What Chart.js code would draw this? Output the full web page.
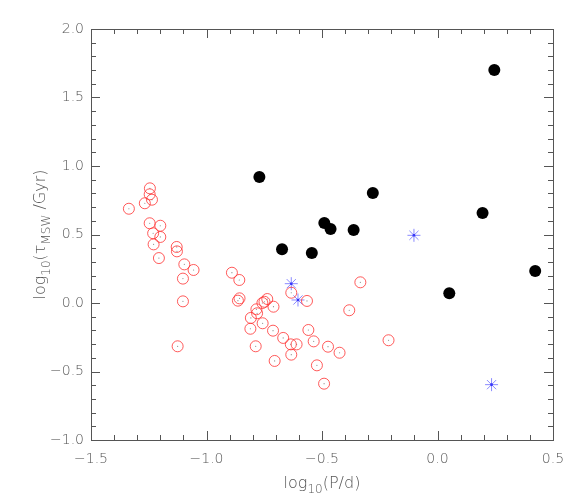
<!DOCTYPE html>
<html>
<head>
<meta charset="utf-8">
<script src="https://cdn.jsdelivr.net/npm/chart.js@4/dist/chart.umd.min.js"></script>
<style>
  body { margin: 0; background: #fff; }
  canvas { display: block; }
</style>
</head>
<body>
<canvas id="myChart" width="581" height="498"></canvas>
<script>
// red open circles
const redX = [-1.245, -1.246, -1.236, -1.267, -1.336, -1.246, -1.200, -1.231, -1.200, -1.229,
  -1.129, -1.128, -1.206, -1.096, -1.056, -1.102, -1.102, -1.125, -0.890, -0.858,
  -0.857, -0.864, -0.334, -0.633, -0.565, -0.737, -0.749, -0.758, -0.710, -0.784,
  -0.781, -0.382, -0.808, -0.757, -0.810, -0.712, -0.559, -0.668, -0.536, -0.635,
  -0.610, -0.787, -0.474, -0.212, -0.424, -0.633, -0.705, -0.522, -0.491]
const redY = [0.837, 0.793, 0.754, 0.728, 0.688, 0.582, 0.564, 0.509, 0.482, 0.428,
  0.409, 0.377, 0.328, 0.282, 0.241, 0.178, 0.012, -0.316, 0.221, 0.168,
  0.034, 0.017, 0.151, 0.075, 0.015, 0.029, 0.009, 0.000, -0.027, -0.046,
  -0.075, -0.053, -0.109, -0.148, -0.188, -0.202, -0.197, -0.255, -0.280, -0.302,
  -0.302, -0.316, -0.319, -0.272, -0.363, -0.377, -0.423, -0.455, -0.589]

// black filled circles
const blackX = [-0.771, 0.246, -0.280, -0.490, -0.463, -0.363, -0.673, -0.544, 0.195, 0.423, 0.051]
const blackY = [0.920, 1.700, 0.803, 0.584, 0.541, 0.533, 0.392, 0.365, 0.657, 0.234, 0.071]

// blue asterisks
const blueX = [-0.633, -0.604, -0.102, 0.234]
const blueY = [0.141, 0.022, 0.494, -0.596]

const xTicks = [-1.5, -1.0, -0.5, 0.0, 0.5]
const yTicks = [-1.0, -0.5, 0.0, 0.5, 1.0, 1.5, 2.0]

function toPoints(xs, ys) {
    return xs.map((x, i) => ({ x: x, y: ys[i] }))
}

function fmt(v) {
    let s = Number(v).toFixed(1)
    if (s === '-0.0') s = '0.0'
    return s.replace('-', '\u2212')
}

const axisColor = '#555'
const textColor = '#555'
const tickFont = { family: 'DejaVu Sans', size: 14, weight: '200' }

// box + inward major/minor ticks on all four sides
const axesBox = {
    id: 'axesBox',
    beforeDatasetsDraw(chart) {
        const { ctx, chartArea: a, scales } = chart
        const x = scales.x, y = scales.y
        ctx.save()
        ctx.strokeStyle = axisColor
        ctx.lineWidth = 1
        ctx.strokeRect(Math.round(a.left) + 0.5, Math.round(a.top) + 0.5,
            Math.round(a.right - a.left), Math.round(a.bottom - a.top))
        ctx.beginPath()
        let n = Math.round((x.max - x.min) / 0.1)
        for (let i = 0; i <= n; i++) {
            let len = i % 5 === 0 ? 9 : 5
            let px = Math.round(x.getPixelForValue(x.min + i * 0.1)) + 0.5
            ctx.moveTo(px, a.bottom); ctx.lineTo(px, a.bottom - len)
            ctx.moveTo(px, a.top); ctx.lineTo(px, a.top + len)
        }
        n = Math.round((y.max - y.min) / 0.1)
        for (let i = 0; i <= n; i++) {
            let len = i % 5 === 0 ? 9 : 5
            let py = Math.round(y.getPixelForValue(y.min + i * 0.1)) + 0.5
            ctx.moveTo(a.left, py); ctx.lineTo(a.left + len, py)
            ctx.moveTo(a.right, py); ctx.lineTo(a.right - len, py)
        }
        ctx.stroke()
        ctx.restore()
    }
}

// axis titles with subscripts
function drawParts(ctx, parts, cx, baseline, size, subSize, subDrop) {
    let widths = parts.map(p => {
        ctx.font = '200 ' + (p.sub ? subSize : size) + 'px "DejaVu Sans"'
        return ctx.measureText(p.t).width
    })
    let total = widths.reduce((s, w) => s + w, 0)
    let pos = cx - total / 2
    parts.forEach((p, i) => {
        ctx.font = '200 ' + (p.sub ? subSize : size) + 'px "DejaVu Sans"'
        ctx.fillText(p.t, pos, baseline + (p.sub ? subDrop : 0))
        pos += widths[i]
    })
}

const axisTitles = {
    id: 'axisTitles',
    afterDraw(chart) {
        const { ctx, chartArea: a } = chart
        ctx.save()
        ctx.fillStyle = textColor
        ctx.textBaseline = 'alphabetic'
        ctx.textAlign = 'left'
        drawParts(ctx, [{ t: 'log' }, { t: '10', sub: true }, { t: '(P/d)' }],
            (a.left + a.right) / 2, 488, 16, 12, 5)
        ctx.translate(45, (a.top + a.bottom) / 2)
        ctx.rotate(-Math.PI / 2)
        drawParts(ctx, [{ t: 'log' }, { t: '10', sub: true }, { t: '(\u03c4' }, { t: 'MSW', sub: true }, { t: ' /Gyr)' }],
            0, 0, 16, 12, 5)
        ctx.restore()
    }
}

let ctx = document.getElementById('myChart').getContext('2d')
let myChart = new Chart(ctx, {
    type: 'scatter',
    data: {
        datasets: [
            {
                data: toPoints(redX, redY),
                pointStyle: 'circle',
                pointRadius: 5.5,
                borderWidth: 1,
                borderColor: 'rgba(255, 50, 50, 0.8)',
                backgroundColor: 'rgba(0,0,0,0)'
            },
            {
                data: toPoints(redX, redY),
                pointRadius: 0.6,
                borderWidth: 0,
                backgroundColor: 'rgba(110, 110, 110, 0.8)'
            },
            {
                data: toPoints(blackX, blackY),
                pointStyle: 'circle',
                pointRadius: 6,
                borderWidth: 0,
                backgroundColor: '#000'
            },
            {
                data: toPoints(blueX, blueY),
                pointStyle: 'star',
                pointRadius: 6.5,
                borderWidth: 1,
                borderColor: 'rgba(60, 60, 255, 0.6)'
            },
            {
                data: toPoints(blueX, blueY),
                pointRadius: 1.3,
                borderWidth: 0,
                backgroundColor: 'rgba(0, 0, 230, 0.9)'
            }
        ]
    },
    options: {
        responsive: false,
        animation: false,
        events: [],
        layout: { padding: { top: 29, right: 28, left: 0, bottom: 0 } },
        plugins: { legend: { display: false }, tooltip: { enabled: false } },
        scales: {
            x: {
                type: 'linear',
                min: -1.5,
                max: 0.5,
                afterFit: s => { s.height = 58 },
                afterBuildTicks: s => { s.ticks = xTicks.map(v => ({ value: v })) },
                grid: { display: false, drawTicks: false },
                border: { display: false },
                ticks: { padding: 11, color: textColor, font: tickFont, callback: fmt, autoSkip: false, maxRotation: 0 }
            },
            y: {
                type: 'linear',
                min: -1.0,
                max: 2.0,
                afterFit: s => { s.width = 91 },
                afterBuildTicks: s => { s.ticks = yTicks.map(v => ({ value: v })) },
                grid: { display: false, drawTicks: false },
                border: { display: false },
                ticks: { padding: 7, color: textColor, font: tickFont, callback: fmt, autoSkip: false }
            }
        }
    },
    plugins: [axesBox, axisTitles]
});
</script>
</body>
</html>
